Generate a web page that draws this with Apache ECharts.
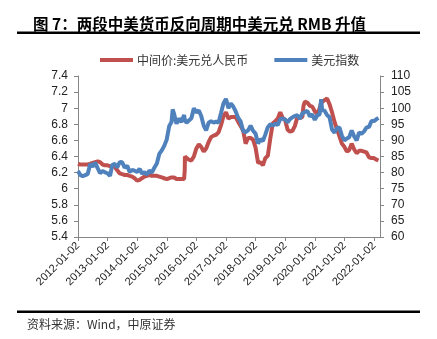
<!DOCTYPE html>
<html><head><meta charset="utf-8">
<script src="https://cdn.jsdelivr.net/npm/echarts@6/dist/echarts.min.js"></script>
<style>html,body{margin:0;padding:0;background:#fff}#c{width:437px;height:339px}</style>
</head><body><div id="c"></div>
<script>
var tickLabels = ['2012-01-02','2013-01-02','2014-01-02','2015-01-02','2016-01-02','2017-01-02','2018-01-02','2019-01-02','2020-01-02','2021-01-02','2022-01-02'];
var leftTicks = [5.4, 7.4, 0.2];
var rightTicks = [60, 110, 5];
var dates = [
'2012-01-02','2012-02-01','2012-03-01','2012-04-01','2012-05-01','2012-06-01','2012-07-01','2012-08-01','2012-09-01','2012-10-01','2012-11-01','2012-12-01',
'2013-01-01','2013-02-01','2013-03-01','2013-04-01','2013-05-01','2013-06-01','2013-07-01','2013-08-01','2013-09-01','2013-10-01','2013-11-01','2013-12-01',
'2014-01-01','2014-02-01','2014-03-01','2014-04-01','2014-05-01','2014-06-01','2014-07-01','2014-08-01','2014-09-01','2014-10-01','2014-11-01','2014-12-01',
'2015-01-01','2015-02-01','2015-03-01','2015-03-15','2015-04-01','2015-05-01','2015-06-01','2015-07-01','2015-08-03','2015-08-11','2015-08-13','2015-09-01','2015-10-01','2015-11-01','2015-12-01',
'2016-01-01','2016-02-01','2016-03-01','2016-04-01','2016-05-01','2016-06-01','2016-07-01','2016-08-01','2016-09-01','2016-10-01','2016-11-01','2016-12-01',
'2017-01-01','2017-02-01','2017-03-01','2017-04-01','2017-05-01','2017-06-01','2017-07-01','2017-08-01','2017-09-01','2017-10-01','2017-11-01','2017-12-01',
'2018-01-01','2018-02-01','2018-03-01','2018-04-01','2018-05-01','2018-06-01','2018-07-01','2018-08-01','2018-09-01','2018-10-01','2018-11-01','2018-12-01',
'2019-01-01','2019-02-01','2019-03-01','2019-04-01','2019-05-01','2019-06-01','2019-07-01','2019-08-01','2019-08-15','2019-09-01','2019-10-01','2019-11-01','2019-12-01',
'2020-01-01','2020-02-01','2020-03-01','2020-03-20','2020-04-01','2020-05-01','2020-06-01','2020-07-01','2020-08-01','2020-09-01','2020-10-01','2020-11-01','2020-12-01',
'2021-01-01','2021-02-01','2021-03-01','2021-04-01','2021-05-01','2021-06-01','2021-07-01','2021-08-01','2021-09-01','2021-10-01','2021-11-01','2021-12-01',
'2022-01-01','2022-02-01','2022-02-25'];
var cny = [
6.31,6.30,6.30,6.30,6.30,6.31,6.32,6.33,6.34,6.33,6.30,6.29,
6.29,6.28,6.28,6.27,6.23,6.19,6.18,6.17,6.17,6.16,6.15,6.13,
6.10,6.11,6.13,6.15,6.16,6.17,6.16,6.16,6.16,6.15,6.14,6.13,
6.12,6.13,6.14,6.15,6.14,6.12,6.12,6.12,6.12,6.23,6.40,6.39,6.36,6.35,6.40,
6.50,6.55,6.52,6.46,6.50,6.58,6.64,6.66,6.67,6.70,6.79,6.90,
6.95,6.87,6.89,6.89,6.89,6.83,6.78,6.72,6.56,6.63,6.63,6.61,
6.51,6.32,6.33,6.29,6.38,6.41,6.62,6.81,6.84,6.87,6.95,6.88,
6.85,6.73,6.71,6.72,6.78,6.89,6.88,6.89,7.03,7.08,7.07,7.03,7.02,
6.96,6.93,7.00,7.07,7.08,7.10,7.12,7.05,6.95,6.83,6.74,6.65,6.56,
6.52,6.46,6.48,6.56,6.49,6.44,6.47,6.47,6.46,6.45,6.39,6.38,
6.38,6.36,6.35];
var dxy = [
80.5,79.2,78.9,79.2,79.6,82.7,81.8,83.1,81.4,79.8,80.5,80.1,
79.8,79.0,82.4,82.7,81.6,83.3,83.2,81.5,82.1,80.2,80.8,80.6,
80.2,81.2,79.7,80.1,79.4,80.6,80.0,81.5,82.8,85.8,86.9,88.3,
90.3,94.5,95.7,99.6,98.3,95.2,96.8,95.7,97.9,96.5,96.2,95.5,96.2,96.9,100.0,
98.7,99.3,97.6,94.6,93.1,95.5,96.0,95.5,95.8,95.5,98.5,101.5,
102.9,100.0,101.5,100.5,99.0,97.0,95.9,92.9,92.6,93.1,94.6,93.0,
92.1,89.0,90.4,89.8,91.8,94.1,95.0,94.6,95.2,94.8,96.6,96.8,
96.5,95.6,96.6,97.2,97.6,97.8,96.7,98.4,97.8,98.8,99.2,97.4,98.1,
96.4,97.8,98.1,102.8,99.4,99.2,97.9,97.2,93.4,92.4,93.8,94.0,91.5,
90.0,90.6,91.0,93.1,91.3,90.0,92.4,92.1,92.8,94.0,94.2,96.0,
96.0,96.6,97.0];

function toYear(s){
  var p = s.split('-').map(Number);
  var t = Date.UTC(p[0],p[1]-1,p[2]), a = Date.UTC(p[0],0,2), b = Date.UTC(p[0]+1,0,2);
  return p[0] + (t-a)/(b-a);
}
var xs = dates.map(toYear);
var tickVals = tickLabels.map(toYear);
var cnyData = xs.map(function(x,i){return [x,cny[i]];});
var dxyData = xs.map(function(x,i){return [x,dxy[i]];});

var axisColor = '#868686';
var lblFont = {fontFamily:'Liberation Sans', fontSize:12, color:'#222'};
var chart = echarts.init(document.getElementById('c'), null, {renderer:'canvas'});
chart.setOption({
  animation:false,
  title:{text:'图 7：两段中美货币反向周期中美元兑 RMB 升值', left:28, top:11,
    textStyle:{fontFamily:'Noto Sans CJK SC', fontSize:15.5, fontWeight:'bold', color:'#000'}},
  graphic:[
    {type:'rect', shape:{x:17,y:31.5,width:403,height:2.5}, style:{fill:'#000'}},
    {type:'rect', shape:{x:17,y:310.5,width:403,height:2.5}, style:{fill:'#000'}},
    {type:'text', left:27, top:318, style:{text:'资料来源：Wind，中原证券', font:'12px "Noto Sans CJK SC"', fill:'#333'}}
  ],
  legend:{left:95, top:49, itemWidth:33, itemHeight:4, itemGap:26, icon:'rect',
    textStyle:{fontFamily:'Noto Sans CJK SC', fontSize:12, color:'#333', padding:[0,0,0,-1]},
    data:['中间价:美元兑人民币','美元指数']},
  grid:{left:78, right:57, top:76, bottom:102},
  xAxis:{type:'value', min:2012, max:2022.2,
    axisLine:{lineStyle:{color:axisColor}},
    axisTick:{customValues:tickVals, length:4, lineStyle:{color:axisColor}},
    axisLabel:{customValues:tickVals, rotate:45, margin:7, fontFamily:'Liberation Sans', fontSize:11, color:'#222',
      formatter:function(v){var i=tickVals.indexOf(v);return i>=0?tickLabels[i]:'';}},
    splitLine:{show:false}},
  yAxis:[
    {type:'value', min:leftTicks[0], max:leftTicks[1], interval:leftTicks[2], position:'left',
      axisLine:{show:true, lineStyle:{color:axisColor}},
      axisTick:{show:true, length:4, lineStyle:{color:axisColor}},
      axisLabel:Object.assign({margin:10, formatter:function(v){return String(+v.toFixed(1));}}, lblFont),
      splitLine:{show:false}},
    {type:'value', min:rightTicks[0], max:rightTicks[1], interval:rightTicks[2], position:'right',
      axisLine:{show:true, lineStyle:{color:axisColor}},
      axisTick:{show:true, length:4, lineStyle:{color:axisColor}},
      axisLabel:Object.assign({margin:11}, lblFont),
      splitLine:{show:false}}
  ],
  series:[
    {name:'中间价:美元兑人民币', type:'line', yAxisIndex:0, data:cnyData, showSymbol:false,
      color:'#C0504D', lineStyle:{width:4, color:'#C0504D'}},
    {name:'美元指数', type:'line', yAxisIndex:1, data:dxyData, showSymbol:false,
      color:'#4F81BD', lineStyle:{width:4, color:'#4F81BD'}}
  ]
});
</script></body></html>
